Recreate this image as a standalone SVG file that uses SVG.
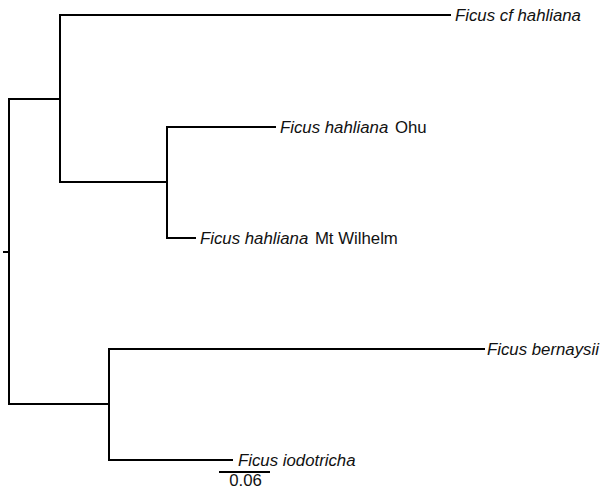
<svg xmlns="http://www.w3.org/2000/svg" width="604" height="490" viewBox="0 0 604 490">
<style>
.e{fill:none;stroke:#000;stroke-width:2;stroke-linecap:square}
.t{font-family:"Liberation Sans",Arial,sans-serif;font-size:16.8px;fill:#111}
.i{font-style:italic}
</style>
<rect width="604" height="490" fill="#fff"/>
<g id="connectors">
<path class="e" d="M4,252H9M9,99V404M9,99H60M9,404H109"/>
<path class="e" d="M60,15V182M60,15H450M60,182H167"/>
<path class="e" d="M167,127V238M167,127H275M167,238H195"/>
<path class="e" d="M109,349V460M109,349H484M109,460H232"/>
<path class="e" d="M220,472H269"/>
</g>
<g id="leaf-cf-hahliana"><text class="t i" x="455" y="21">Ficus cf hahliana</text></g>
<g id="leaf-ohu"><text class="t" x="280" y="133"><tspan class="i">Ficus hahliana</tspan><tspan dx="2"> Ohu</tspan></text></g>
<g id="leaf-mt-wilhelm"><text class="t" x="200" y="244"><tspan class="i">Ficus hahliana</tspan><tspan dx="2"> Mt Wilhelm</tspan></text></g>
<g id="leaf-bernaysii"><text class="t i" x="487" y="355">Ficus bernaysii</text></g>
<g id="leaf-iodotricha"><text class="t i" x="238" y="466">Ficus iodotricha</text></g>
<g id="scale"><text class="t" x="245.5" y="486" font-size="16px" text-anchor="middle">0.06</text></g>
</svg>
